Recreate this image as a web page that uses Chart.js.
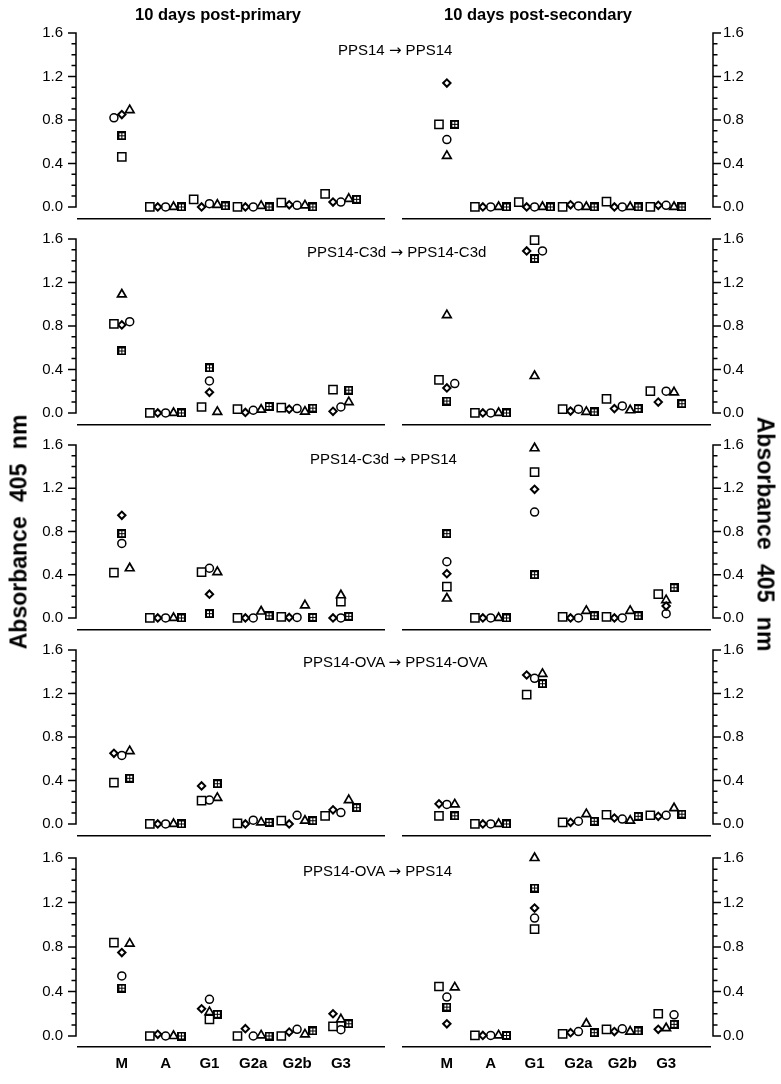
<!DOCTYPE html>
<html>
<head>
<meta charset="utf-8">
<script src="https://cdn.jsdelivr.net/npm/chart.js@4.4.0/dist/chart.umd.min.js"></script>
<style>
  body { margin: 0; background: #fff; }
  #fig { position: relative; width: 781px; height: 1084px; font-family: "Liberation Sans", Arial, sans-serif; color: #000; }
  #fig canvas { position: absolute; }
  .txt { position: absolute; white-space: nowrap; line-height: 1; }
  .colTitle { font-size: 16.5px; font-weight: bold; transform: translate(-50%, -50%); }
  .rowLabel { font-size: 15px; transform: translateY(-50%); }
  .rowLabel .arr { font-family: "DejaVu Sans", sans-serif; font-size: 15px; }
  .yTitle { font-size: 23px; font-weight: bold; word-spacing: 8px; }
</style>
</head>
<body>
<div id="fig"></div>
<script>
// categories and tick labels
var categories = ['M', 'A', 'G1', 'G2a', 'G2b', 'G3'];
var markers = ['square', 'diamond', 'circle', 'triangle', 'boxed'];
var yTicks = [0, 0.4, 0.8, 1.2, 1.6];
var columnTitles = ['10 days post-primary', '10 days post-secondary'];
var rowLabels = ['PPS14 \u2192 PPS14', 'PPS14-C3d \u2192 PPS14-C3d', 'PPS14-C3d \u2192 PPS14',
                 'PPS14-OVA \u2192 PPS14-OVA', 'PPS14-OVA \u2192 PPS14'];

// values per marker (rows: square, diamond, circle, triangle, boxed), columns = categories
var primary1 = [
  [0.46, 0.00, 0.07, 0.00, 0.04, 0.12],
  [0.85, 0.00, 0.00, 0.00, 0.02, 0.045],
  [0.82, 0.00, 0.03, 0.00, 0.015, 0.045],
  [0.89, 0.00, 0.02, 0.01, 0.015, 0.075],
  [0.655, 0.00, 0.01, 0.00, 0.00, 0.07]
];
var secondary1 = [
  [0.76, 0.00, 0.045, 0.00, 0.05, 0.00],
  [1.14, 0.00, 0.00, 0.02, 0.00, 0.015],
  [0.62, 0.00, 0.00, 0.01, 0.00, 0.015],
  [0.47, 0.00, 0.00, 0.00, 0.00, 0.00],
  [0.76, 0.00, 0.00, 0.00, 0.00, 0.00]
];
var primary2 = [
  [0.82, 0.00, 0.055, 0.035, 0.05, 0.215],
  [0.81, 0.00, 0.19, 0.005, 0.035, 0.015],
  [0.84, 0.00, 0.295, 0.025, 0.04, 0.055],
  [1.09, 0.00, 0.01, 0.03, 0.012, 0.10],
  [0.57, 0.00, 0.415, 0.06, 0.045, 0.21]
];
var secondary2 = [
  [0.305, 0.00, 1.59, 0.035, 0.13, 0.20],
  [0.23, 0.00, 1.49, 0.018, 0.04, 0.10],
  [0.27, 0.00, 1.49, 0.035, 0.065, 0.20],
  [0.90, 0.00, 0.34, 0.01, 0.025, 0.19],
  [0.11, 0.00, 1.42, 0.01, 0.04, 0.085]
];
var primary3 = [
  [0.42, 0.00, 0.425, 0.00, 0.01, 0.15],
  [0.95, 0.00, 0.22, 0.00, 0.005, 0.00],
  [0.69, 0.00, 0.46, 0.00, 0.005, 0.00],
  [0.46, 0.00, 0.425, 0.06, 0.117, 0.21],
  [0.78, 0.00, 0.04, 0.02, 0.005, 0.015]
];
var secondary3 = [
  [0.29, 0.00, 1.35, 0.01, 0.01, 0.22],
  [0.41, 0.00, 1.19, 0.00, 0.00, 0.11],
  [0.52, 0.00, 0.98, 0.00, 0.00, 0.04],
  [0.18, 0.00, 1.57, 0.065, 0.065, 0.165],
  [0.78, 0.00, 0.40, 0.02, 0.02, 0.28]
];
var primary4 = [
  [0.38, 0.00, 0.215, 0.005, 0.03, 0.075],
  [0.65, 0.00, 0.35, 0.00, 0.00, 0.13],
  [0.63, 0.00, 0.22, 0.035, 0.08, 0.105],
  [0.67, 0.00, 0.24, 0.015, 0.03, 0.22],
  [0.42, 0.00, 0.37, 0.015, 0.03, 0.15]
];
var secondary4 = [
  [0.075, 0.00, 1.19, 0.015, 0.085, 0.08],
  [0.185, 0.00, 1.37, 0.015, 0.055, 0.07],
  [0.18, 0.00, 1.34, 0.025, 0.045, 0.08],
  [0.18, 0.00, 1.38, 0.09, 0.03, 0.145],
  [0.075, 0.00, 1.29, 0.025, 0.07, 0.09]
];
var primary5 = [
  [0.84, 0.00, 0.15, 0.00, 0.00, 0.087],
  [0.75, 0.015, 0.245, 0.066, 0.035, 0.20],
  [0.54, 0.00, 0.33, 0.00, 0.06, 0.057],
  [0.83, 0.00, 0.215, 0.005, 0.015, 0.15],
  [0.43, 0.00, 0.195, 0.00, 0.045, 0.11]
];
var secondary5 = [
  [0.445, 0.005, 0.96, 0.02, 0.06, 0.20],
  [0.11, 0.005, 1.15, 0.03, 0.04, 0.06],
  [0.35, 0.005, 1.06, 0.04, 0.065, 0.19],
  [0.437, 0.005, 1.60, 0.11, 0.04, 0.07],
  [0.26, 0.005, 1.33, 0.03, 0.045, 0.105]
];

// side-by-side slot of each marker inside its category (-2 .. 2)
var primary1Slots = [[0,-2,-2,-2,-2,-2],[0,-1,-1,-1,-1,-1],[-1,0,0,0,0,0],[1,1,1,1,1,1],[0,2,2,2,2,2]];
var secondary1Slots = [[-1,-2,-2,-2,-2,-2],[0,-1,-1,-1,-1,-1],[0,0,0,0,0,0],[0,1,1,1,1,1],[1,2,2,2,2,2]];
var primary2Slots = [[-1,-2,-1,-2,-2,-1],[0,-1,0,-1,-1,-1],[1,0,0,0,0,0],[0,1,1,1,1,1],[0,2,0,2,2,1]];
var secondary2Slots = [[-1,-2,0,-2,-2,-2],[0,-1,-1,-1,-1,-1],[1,0,1,0,0,0],[0,1,0,1,1,1],[0,2,0,2,2,2]];
var primary3Slots = [[-1,-2,-1,-2,-2,0],[0,-1,0,-1,-1,-1],[0,0,0,0,0,0],[1,1,1,1,1,0],[0,2,0,2,2,1]];
var secondary3Slots = [[0,-2,0,-2,-2,-1],[0,-1,0,-1,-1,0],[0,0,0,0,0,0],[0,1,0,1,1,0],[0,2,0,2,2,1]];
var primary4Slots = [[-1,-2,-1,-2,-2,-2],[-1,-1,-1,-1,-1,-1],[0,0,0,0,0,0],[1,1,1,1,1,1],[1,2,1,2,2,2]];
var secondary4Slots = [[-1,-2,-1,-2,-2,-2],[-1,-1,-1,-1,-1,-1],[0,0,0,0,0,0],[1,1,1,1,1,1],[1,2,1,2,2,2]];
var primary5Slots = [[-1,-2,0,-2,-2,-1],[0,-1,-1,-1,-1,-1],[0,0,0,0,0,0],[1,1,0,1,1,0],[0,2,1,2,2,1]];
var secondary5Slots = [[-1,-2,0,-2,-2,-1],[0,-1,0,-1,-1,-1],[0,0,0,0,0,1],[1,1,0,1,1,0],[0,2,0,2,2,1]];

var primaryPanels = [primary1, primary2, primary3, primary4, primary5];
var secondaryPanels = [secondary1, secondary2, secondary3, secondary4, secondary5];
var primarySlots = [primary1Slots, primary2Slots, primary3Slots, primary4Slots, primary5Slots];
var secondarySlots = [secondary1Slots, secondary2Slots, secondary3Slots, secondary4Slots, secondary5Slots];

// layout (page pixels)
var rowTop = [33, 239, 445, 650, 858];     // where 1.6 sits
var rowZero = [211, 417, 622, 828, 1036];  // where 0.0 sits
var rowLine = [223, 429, 634, 840, 1047];  // detached x axis line
var slotStep = 0.18;

Chart.defaults.font.family = "'Liberation Sans', Arial, sans-serif";
Chart.defaults.color = '#000';

// square with a cross inside
function boxedMarker() {
  var c = document.createElement('canvas');
  c.width = 9; c.height = 9;
  var g = c.getContext('2d');
  g.fillStyle = '#000';
  g.fillRect(0, 0, 9, 9);
  g.fillStyle = '#fff';
  [[2, 2], [5, 2], [2, 5], [5, 5]].forEach(function (p) { g.fillRect(p[0], p[1], 2, 2); });
  return c;
}

var markerStyle = {
  square:   { pointStyle: 'rect', radius: 5.8, width: 1.5 },
  diamond:  { pointStyle: 'rectRot', radius: 3.7, width: 2 },
  circle:   { pointStyle: 'circle', radius: 4, width: 1.5 },
  triangle: { pointStyle: 'triangle', radius: 5, width: 1.7 },
  boxed:    { pointStyle: boxedMarker(), radius: 5, width: 1 }
};

// y axis line with major and minor ticks, only from 0 to 1.6
var yAxisPlugin = {
  id: 'yaxis',
  afterDraw: function (chart, args, opts) {
    var ys = chart.scales.y, a = chart.chartArea, ctx = chart.ctx;
    var right = opts.side === 'right';
    var x = right ? a.right + 3 : a.left - 2;
    var dir = right ? 1 : -1;
    ctx.save();
    ctx.strokeStyle = '#000';
    ctx.lineWidth = 1.5;
    ctx.beginPath();
    ctx.moveTo(x, ys.getPixelForValue(0) + 0.75);
    ctx.lineTo(x, ys.getPixelForValue(1.6) - 0.75);
    for (var i = 0; i <= 16; i++) {
      var p = ys.getPixelForValue(i / 10);
      var len = (i % 4 === 0) ? 8 : 4.5;
      ctx.moveTo(x, p);
      ctx.lineTo(x + dir * len, p);
    }
    ctx.stroke();
    ctx.restore();
  }
};

var fig = document.getElementById('fig');

function makePanel(col, row, values, slots) {
  var isLeft = col === 0;
  var isBottom = row === 4;
  var padTop = 14;
  var bottomH = isBottom ? 32 : 3;
  var left = isLeft ? 0 : 392;
  var width = isLeft ? 392 : 389;
  var top = rowTop[row] - padTop;
  var height = rowLine[row] - top + bottomH;
  var pxPerUnit = (rowZero[row] - rowTop[row]) / 1.6;
  var yMin = -(rowLine[row] - rowZero[row]) / pxPerUnit;

  var cv = document.createElement('canvas');
  cv.width = width; cv.height = height;
  cv.style.left = left + 'px'; cv.style.top = top + 'px';
  cv.style.width = width + 'px'; cv.style.height = height + 'px';
  fig.appendChild(cv);

  var datasets = markers.map(function (m, s) {
    var st = markerStyle[m];
    return {
      label: m,
      data: values[s].map(function (v, i) { return { x: i + slots[s][i] * slotStep, y: v }; }),
      pointStyle: st.pointStyle,
      pointRadius: st.radius,
      pointHoverRadius: st.radius,
      borderWidth: st.width,
      pointBorderWidth: st.width,
      borderColor: '#000',
      pointBorderColor: '#000',
      backgroundColor: '#fff',
      pointBackgroundColor: '#fff',
      clip: false
    };
  });

  new Chart(cv.getContext('2d'), {
    type: 'scatter',
    data: { datasets: datasets },
    plugins: [yAxisPlugin],
    options: {
      responsive: false,
      animation: false,
      events: [],
      layout: { padding: isLeft ? { top: padTop, left: 0, right: 7, bottom: 0 } : { top: padTop, left: 11, right: 0, bottom: 0 } },
      plugins: { legend: { display: false }, tooltip: { enabled: false }, yaxis: { side: isLeft ? 'left' : 'right' } },
      scales: {
        x: {
          type: 'linear', position: 'bottom', min: -1, max: 6,
          grid: { display: false, drawTicks: false },
          border: { display: true, color: '#000', width: 1.6 },
          afterBuildTicks: function (s) { s.ticks = categories.map(function (c, i) { return { value: i }; }); },
          ticks: {
            display: isBottom, autoSkip: false, maxRotation: 0, padding: 8,
            font: { size: 15, weight: 'bold' },
            callback: function (v) { return categories[v]; }
          },
          afterFit: function (s) { s.height = bottomH; s.paddingLeft = 0; s.paddingRight = 0; }
        },
        y: {
          type: 'linear', position: isLeft ? 'left' : 'right', min: yMin, max: 1.6,
          grid: { display: false, drawTicks: false },
          border: { display: false },
          afterBuildTicks: function (s) { s.ticks = yTicks.map(function (v) { return { value: v }; }); },
          ticks: {
            autoSkip: false, padding: isLeft ? 15 : 13, font: { size: 15 },
            callback: function (v) { return Number(v).toFixed(1); }
          },
          afterFit: function (s) { s.width = isLeft ? 78 : 71; s.paddingTop = 0; s.paddingBottom = 0; }
        }
      }
    }
  });
}

for (var r = 0; r < 5; r++) {
  makePanel(0, r, primaryPanels[r], primarySlots[r]);
  makePanel(1, r, secondaryPanels[r], secondarySlots[r]);
}

// texts
function addText(cls, text, css) {
  var d = document.createElement('div');
  d.className = 'txt ' + cls;
  var parts = text.split('\u2192');
  parts.forEach(function (p, i) {
    if (i > 0) {
      var s = document.createElement('span');
      s.className = 'arr';
      s.textContent = '\u2192';
      d.appendChild(s);
    }
    d.appendChild(document.createTextNode(p));
  });
  for (var k in css) d.style[k] = css[k];
  fig.appendChild(d);
}
var titleX = [218, 538];
columnTitles.forEach(function (t, i) { addText('colTitle', t, { left: titleX[i] + 'px', top: '14px' }); });
var labelLeft = [338, 307, 310, 303, 303];
var labelY = [50, 252, 459, 662, 871];
rowLabels.forEach(function (t, i) { addText('rowLabel', t, { left: labelLeft[i] + 'px', top: labelY[i] + 'px' }); });
addText('yTitle', 'Absorbance 405 nm', { left: '19px', top: '532px', transform: 'translate(-50%, -50%) rotate(-90deg)' });
addText('yTitle', 'Absorbance 405 nm', { left: '765px', top: '534px', transform: 'translate(-50%, -50%) rotate(90deg)' });
</script>
</body>
</html>
